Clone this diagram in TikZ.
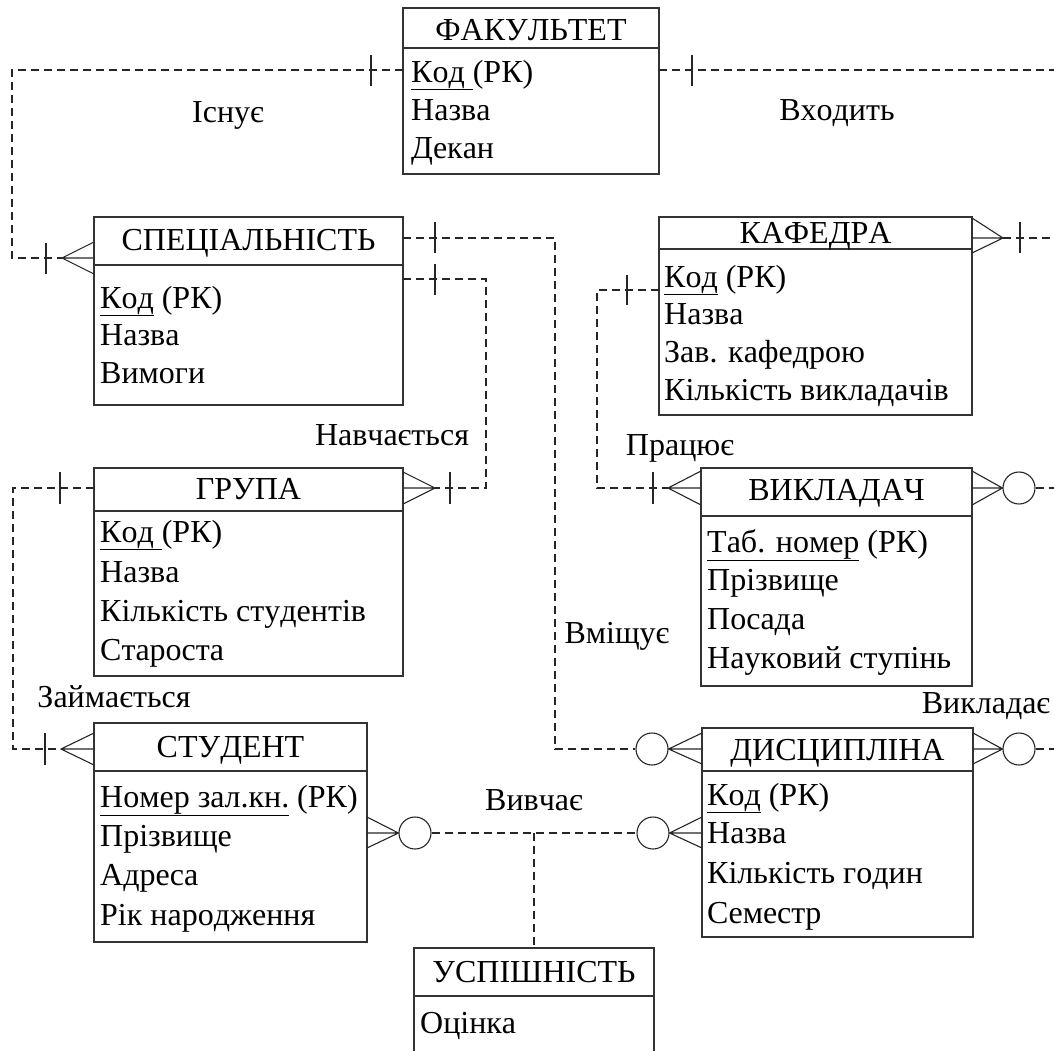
\documentclass[tikz,border=0pt]{standalone}
\usepackage{fontspec}
\setmainfont{Liberation Serif}[Kerning=Off]
\begin{document}
\begin{tikzpicture}[x=1pt,y=-1pt,
  ent/.style={draw=black!80, line width=1.2pt},
  sep/.style={draw=black!80, line width=1.2pt},
  rel/.style={draw=black!85, line width=1.2pt, dash pattern=on 8pt off 5pt},
  sol/.style={draw=black!85, line width=1.1pt},
  txt/.style={inner sep=0pt, font=\fontsize{32}{36}\selectfont},
  attr/.style={txt, anchor=base west},
  ttl/.style={txt, anchor=base},
  lbl/.style={txt, anchor=base},
  circ/.style={draw=black!85, line width=1.1pt, circle, minimum size=32pt, inner sep=0pt}
]
\useasboundingbox (0,0) rectangle (1054,1050);
\newcommand{\ul}[1]{\underline{#1}}
% ---------- entities ----------
\path[ent] (403,8) rectangle (659,174);
\draw[sep] (403,48) -- (659,48);
\node[ttl] (facT) at (531,40) {ФАКУЛЬТЕТ};
\node[attr] (fac1) at (411,82) {\ul{Код }(РК)};
\node[attr] (fac2) at (411,120) {Назва};
\node[attr] (fac3) at (411,158) {Декан};

\path[ent] (94,217) rectangle (403,405);
\draw[sep] (94,265) -- (403,265);
\node[ttl] (specT) at (248.5,250) {СПЕЦІАЛЬНІСТЬ};
\node[attr] (spec1) at (100,308) {\ul{Код} (РК)};
\node[attr] (spec2) at (100,345) {Назва};
\node[attr] (spec3) at (100,383) {Вимоги};

\path[ent] (659,217) rectangle (972,415);
\draw[sep] (659,249) -- (972,249);
\node[ttl] (kafT) at (815.5,243) {КАФЕДРА};
\node[attr] (kaf1) at (664,287) {\ul{Код} (РК)};
\node[attr] (kaf2) at (664,324) {Назва};
\node[attr] (kaf3) at (664,362) {Зав. кафедрою};
\node[attr] (kaf4) at (664,400) {Кількість викладачів};

\path[ent] (94,468) rectangle (403,676);
\draw[sep] (94,511) -- (403,511);
\node[ttl] (grpT) at (248.5,499) {ГРУПА};
\node[attr] (grp1) at (100,542) {\ul{Код }(РК)};
\node[attr] (grp2) at (100,582) {Назва};
\node[attr] (grp3) at (100,621) {Кількість студентів};
\node[attr] (grp4) at (100,660) {Староста};

\path[ent] (701,468) rectangle (972,686);
\draw[sep] (701,516) -- (972,516);
\node[ttl] (vykT) at (836.5,500) {ВИКЛАДАЧ};
\node[attr] (vyk1) at (707,552) {\ul{Таб. номер} (РК)};
\node[attr] (vyk2) at (707,590) {Прізвище};
\node[attr] (vyk3) at (707,629) {Посада};
\node[attr] (vyk4) at (707,668) {Науковий ступінь};

\path[ent] (94,723) rectangle (367,942);
\draw[sep] (94,771) -- (367,771);
\node[ttl] (studT) at (230.5,757) {СТУДЕНТ};
\node[attr] (stud1) at (100,807) {\ul{Номер зал.кн.} (РК)};
\node[attr] (stud2) at (100,846) {Прізвище};
\node[attr] (stud3) at (100,885) {Адреса};
\node[attr] (stud4) at (100,925) {Рік народження};

\path[ent] (702,728) rectangle (973,937);
\draw[sep] (702,771) -- (973,771);
\node[ttl] (discT) at (837.5,760) {ДИСЦИПЛІНА};
\node[attr] (disc1) at (707,805) {\ul{Код} (РК)};
\node[attr] (disc2) at (707,843) {Назва};
\node[attr] (disc3) at (707,883) {Кількість годин};
\node[attr] (disc4) at (707,923) {Семестр};

\draw[ent] (414,1052) -- (414,948) -- (654,948) -- (654,1052);
\draw[sep] (414,996) -- (654,996);
\node[ttl] (uspT) at (534,982) {УСПІШНІСТЬ};
\node[attr] (usp1) at (420,1033) {Оцінка};

% ---------- relationship labels ----------
\node[lbl] (l1) at (228,122) {Існує};
\node[lbl] (l2) at (837,120) {Входить};
\node[lbl] (l3) at (392,445) {Навчається};
\node[lbl] (l4) at (680,455) {Працює};
\node[lbl] (l5) at (114,707) {Займається};
\node[lbl] (l6) at (617,643) {Вміщує};
\node[lbl] (l7) at (986,713) {Викладає};
\node[lbl] (l8) at (534,810) {Вивчає};

% ---------- circles ----------
\node[circ] (c1) at (1019,488) {};
\node[circ] (c2) at (652,749) {};
\node[circ] (c3) at (1019,749) {};
\node[circ] (c4) at (415,833) {};
\node[circ] (c5) at (653,833) {};

% ---------- connectors ----------
% Існує: ФАКУЛЬТЕТ -> СПЕЦІАЛЬНІСТЬ
\draw[rel] (403,70) -- (12,70) -- (12,258) -- (62,258);
\draw[sol] (371,55) -- (371,86);
\draw[sol] (46,243) -- (46,274);
\draw[sol] (94,242) -- (62,258) -- (94,274) (62,258) -- (94,258);
% Входить: ФАКУЛЬТЕТ -> КАФЕДРА (off right edge)
\draw[rel] (659,70) -- (1054,70);
\draw[sol] (692,55) -- (692,86);
\draw[rel] (1003,238) -- (1054,238);
\draw[sol] (1020,222) -- (1020,253);
\draw[sol] (972,218) -- (1003,238) -- (972,253) (972,238) -- (1003,238);
% Вміщує: СПЕЦІАЛЬНІСТЬ -> ДИСЦИПЛІНА
\draw[rel] (403,238) -- (555,238) -- (555,749) -- (c2.west);
\draw[sol] (435,222) -- (435,253);
\draw[sol] (c2.east) -- (702,749) (702,733) -- (c2.east) -- (702,764);
% Навчається: СПЕЦІАЛЬНІСТЬ -> ГРУПА
\draw[rel] (403,279) -- (486,279) -- (486,488) -- (435,488);
\draw[sol] (435,264) -- (435,295);
\draw[sol] (450,472) -- (450,504);
\draw[sol] (403,472) -- (435,488) -- (403,504) (403,488) -- (435,488);
% Займається: ГРУПА -> СТУДЕНТ
\draw[rel] (94,488) -- (13,488) -- (13,749) -- (61,749);
\draw[sol] (60,472) -- (60,504);
\draw[sol] (45,733) -- (45,765);
\draw[sol] (94,733) -- (61,749) -- (94,765) (61,749) -- (94,749);
% Працює: КАФЕДРА -> ВИКЛАДАЧ
\draw[rel] (659,290) -- (597,290) -- (597,488) -- (668,488);
\draw[sol] (627,275) -- (627,305);
\draw[sol] (653,472) -- (653,504);
\draw[sol] (701,471) -- (668,488) -- (701,505) (668,488) -- (701,488);
% ВИКЛАДАЧ right (Викладає)
\draw[sol] (972,471) -- (c1.west) -- (972,505) (972,488) -- (c1.west);
\draw[rel] (c1.east) -- (1054,488);
% ДИСЦИПЛІНА right (Викладає)
\draw[sol] (973,733) -- (c3.west) -- (973,764) (973,749) -- (c3.west);
\draw[rel] (c3.east) -- (1054,749);
% Вивчає: СТУДЕНТ -- ДИСЦИПЛІНА, with УСПІШНІСТЬ
\draw[sol] (367,817) -- (c4.west) -- (367,848) (367,833) -- (c4.west);
\draw[rel] (c4.east) -- (c5.west);
\draw[sol] (c5.east) -- (702,833) (702,817) -- (c5.east) -- (702,848);
\coordinate (mid) at (534,833);
\draw[rel] (mid) -- (534,948);
\end{tikzpicture}
\end{document}
